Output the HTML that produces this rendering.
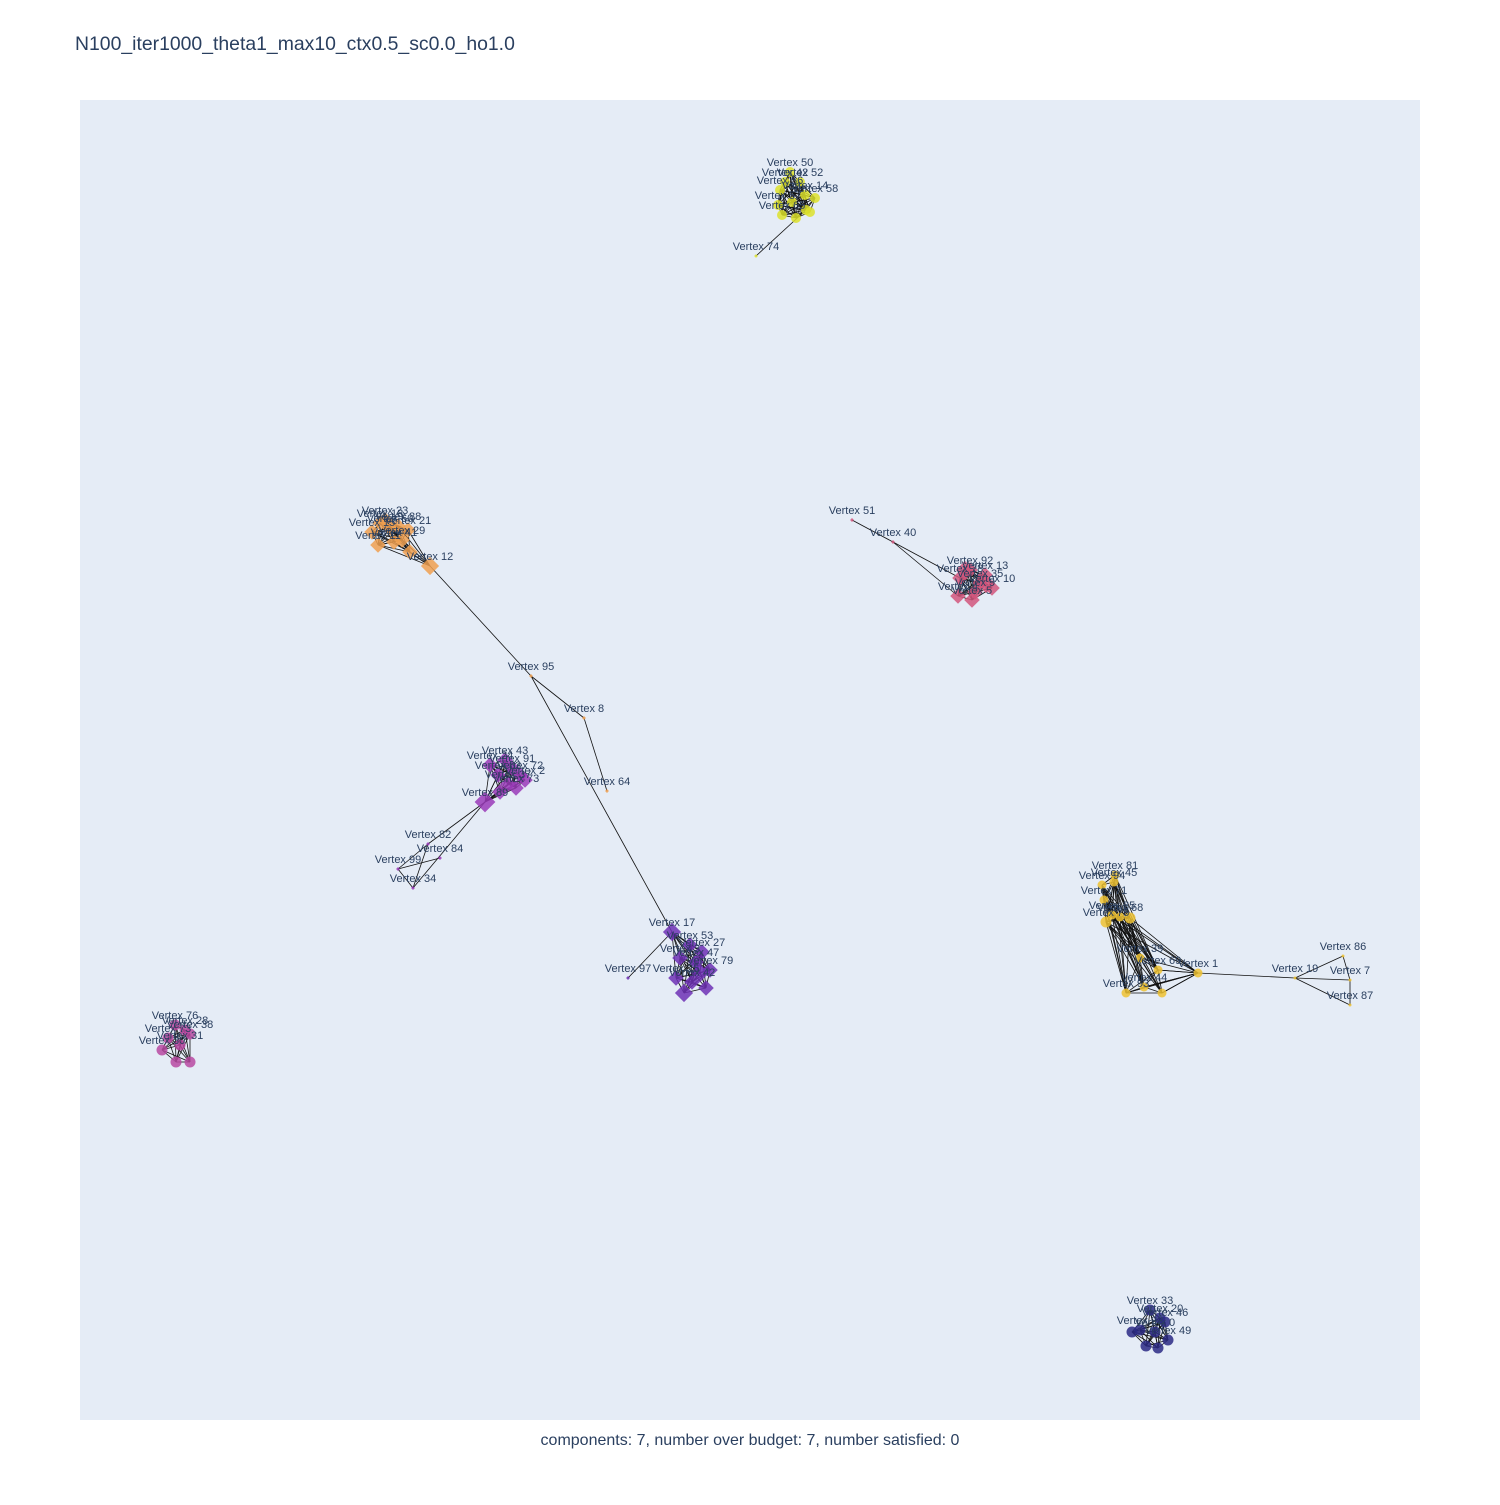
<!DOCTYPE html>
<html><head><meta charset="utf-8"><style>
body{margin:0;background:#fff;}
svg text{font-family:"Liberation Sans",sans-serif;fill:#2a3f5f;}
</style></head><body>
<svg id="chart" width="1500" height="1500">
<rect x="0" y="0" width="1500" height="1500" fill="#fff"/>
<rect x="80" y="100" width="1340" height="1320" fill="#e5ecf6"/>
<text x="75" y="50" font-size="19.4">N100_iter1000_theta1_max10_ctx0.5_sc0.0_ho1.0</text>
<text x="750" y="1445" font-size="16" text-anchor="middle">components: 7, number over budget: 7, number satisfied: 0</text>
<g id="edges"></g>
<g id="nodes"></g>
<g id="labels"></g>
</svg>
<script>
// plot coordinates: x 0..1340 left->right, y 0..1320 top->bottom
const nodeIds = [50,42,52,56,14,58,57,59,63,65,66,67, 74,
 23,18,88,15,60,21,29,11,41,44,12, 95,8,64,
 43,24,91,83,72,2,37,73,80,89, 82,84,99,34,
 17,53,27,3,47,79,25,142,26,32,36,97,
 92,13,78,35,10,9,4,5,6,16, 51,40,
 76,28,173,38,31,30,139,48,
 33,20,46,22,0,49,54,55,61,
 81,94,45,71,85,68,75,77,39,69,1,144,93,96, 19,86,7,87];
const nodeX = [710,705,720,700,725,735,698,712,726,702,716,730, 676,
 305,300,318,292,310,328,322,298,314,330,350, 451,504,527,
 425,410,432,418,440,445,428,436,420,405,  348,360,318,333,
 592,610,622,600,616,630,596,612,626,604,620,548,
 890,905,880,900,912,895,878,892,906,885, 772,813,
 95,105,88,110,100,82,96,110,
 1070,1080,1085,1060,1075,1088,1052,1066,1078,
 1035,1022,1034,1024,1032,1040,1026,1050,1060,1078,1118,1064,1046,1082, 1215,1263,1270,1270];
const nodeY = [72,82,82,90,95,98,105,102,110,115,118,112, 156,
 420,423,426,432,428,430,440,445,442,452,466, 576,618,691,
 660,665,668,675,675,680,684,688,692,702,  744,758,769,788,
 832,845,852,858,862,870,878,882,888,893,873,878,
 470,475,478,483,488,492,496,500,484,470, 420,442,
 925,930,938,934,945,950,962,962,
 1210,1218,1222,1230,1232,1240,1232,1246,1248,
 775,785,782,800,815,817,822,818,858,870,873,887,893,893, 878,856,880,905];
const nodeGroup = [0,0,0,0,0,0,0,0,0,0,0,0, 0,
 1,1,1,1,1,1,1,1,1,1,1, 1,1,1,
 2,2,2,2,2,2,2,2,2,2, 2,2,2,2,
 3,3,3,3,3,3,3,3,3,3,3,3,
 4,4,4,4,4,4,4,4,4,4, 4,4,
 5,5,5,5,5,5,5,5,
 6,6,6,6,6,6,6,6,6,
 7,7,7,7,7,7,7,7,7,7,7,7,7,7, 7,7,7,7];
const nodeSize = [10,10,10,10,10,10,10,10,10,10,10,10, 3,
 12,12,12,12,12,12,12,12,12,12,14, 3,3,3,
 12,12,12,12,12,12,12,12,12,16, 3,3,3,3,
 14,12,12,12,12,12,12,12,12,14,14,3,
 12,12,12,12,12,12,12,12,14,14, 3,3,
 11,11,11,11,11,11,11,11,
 11,11,11,11,11,11,11,11,11,
 9,9,9,9,9,9,11,11,9,9,9,9,9,9, 3,3,3,3];
const showLabel = [1,1,1,1,1,1,1,0,0,1,0,0, 1,
 1,1,1,1,1,1,1,1,1,0,1, 1,1,1,
 1,1,1,1,1,1,1,1,0,1, 1,1,1,1,
 1,1,1,1,1,1,1,1,0,0,0,1,
 1,1,1,1,1,1,1,1,0,0, 1,1,
 1,1,1,1,1,1,0,0,
 1,1,1,1,1,1,0,0,0,
 1,1,1,1,1,1,1,0,1,1,1,1,1,0, 1,1,1,1];
const groupColor = ['#dde22c','#f0a050','#9a3bb8','#6e31b5','#d2567c','#b84aa2','#2b2a85','#efc231'];
const groupShape = ['circle','diamond','diamond','diamond','diamond','circle','circle','circle'];
// explicit connecting edges (vertex ids)
const linkFrom = [74,12,95,8,95,89,89,82,82,84,99,97,51,40,40,1,1,1,1,1,19,19,19,86,7,39,69,75];
const linkTo   = [63,95,8,64,17,82,34,99,34,99,34,17,40,78,4,19,69,144,93,96,86,7,87,7,87,75,77,77];

const X0=80,Y0=100;
function sx(v){return X0+v;}
function sy(v){return Y0+v;}
const NS='http://www.w3.org/2000/svg';
const eg=document.getElementById('edges'),ng=document.getElementById('nodes'),lg=document.getElementById('labels');
function idx(id){return nodeIds.indexOf(id);}
function edge(a,b){
  if(a<0||b<0)return;
  const l=document.createElementNS(NS,'line');
  l.setAttribute('x1',sx(nodeX[a]));l.setAttribute('y1',sy(nodeY[a]));
  l.setAttribute('x2',sx(nodeX[b]));l.setAttribute('y2',sy(nodeY[b]));
  l.setAttribute('stroke','#111');l.setAttribute('stroke-width','0.8');
  
  
  eg.appendChild(l);
}
// dense intra-cluster edges among large nodes of the same group
for(let i=0;i<nodeX.length;i++)for(let j=i+1;j<nodeX.length;j++){
  if(nodeGroup[i]===nodeGroup[j]&&nodeSize[i]>3&&nodeSize[j]>3){
    const dx=nodeX[i]-nodeX[j],dy=nodeY[i]-nodeY[j];
    const lim=nodeGroup[i]===7?115:60;
    if(dx*dx+dy*dy<lim*lim) edge(i,j);
  }
}
for(let k=0;k<linkFrom.length;k++) edge(idx(linkFrom[k]),idx(linkTo[k]));

for(let i=0;i<nodeX.length;i++){
  const g=nodeGroup[i],r=nodeSize[i]/2,cx=sx(nodeX[i]),cy=sy(nodeY[i]);
  let el;
  if(groupShape[g]==='circle'){
    el=document.createElementNS(NS,'circle');
    el.setAttribute('cx',cx);el.setAttribute('cy',cy);el.setAttribute('r',r);
  } else {
    el=document.createElementNS(NS,'polygon');
    const d=r*1.3;
    el.setAttribute('points',`${cx},${cy-d} ${cx+d},${cy} ${cx},${cy+d} ${cx-d},${cy}`);
  }
  el.setAttribute('fill',groupColor[g]);el.setAttribute('fill-opacity','0.85');
  
  
  ng.appendChild(el);
  if(showLabel[i]){
    const t=document.createElementNS(NS,'text');
    t.setAttribute('x',cx);t.setAttribute('y',cy-6);t.setAttribute('font-size','11');
    t.setAttribute('text-anchor','middle');
    t.textContent='Vertex '+(nodeIds[i]>=100?nodeIds[i]-100:nodeIds[i]);
    
    
    lg.appendChild(t);
  }
}
</script>
</body></html>
